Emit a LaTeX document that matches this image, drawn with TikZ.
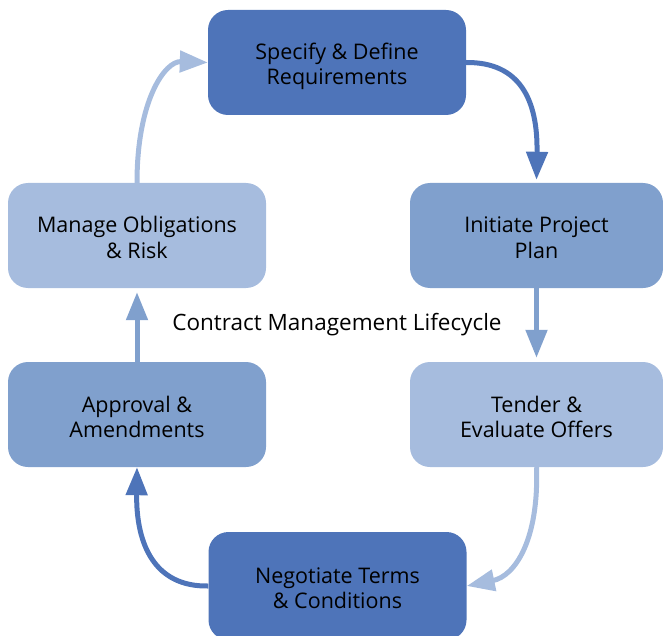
\documentclass[tikz,border=0pt]{standalone}
\usepackage{fontspec}
\setmainfont{Open Sans}
\usetikzlibrary{arrows.meta}
\definecolor{cdark}{RGB}{78,116,185}
\definecolor{cmid}{RGB}{128,160,205}
\definecolor{clight}{RGB}{166,188,222}
\newcommand\myTopStrut{\rule{0pt}{26pt}}
\newcommand\myBotStrut{\rule[-6pt]{0pt}{6pt}}
\begin{document}
\begin{tikzpicture}[x=1pt,y=-1pt,
  stage/.style={rectangle, rounded corners=20pt, minimum width=258pt, minimum height=105pt,
    align=center, inner sep=0pt, font=\fontsize{21.5}{25}\selectfont},
  flow/.style={line width=5pt, -{Triangle[length=28pt,width=21pt]}}]
\clip (0,0) rectangle (663,636);
\node[stage, fill=cdark] (spec) at (337,62.5) {\myTopStrut Specify \& Define\\Requirements\myBotStrut};
\node[stage, fill=cmid, minimum width=253pt] (init) at (536.5,235.5) {\myTopStrut Initiate Project\\Plan\myBotStrut};
\node[stage, fill=clight, minimum width=253pt] (tend) at (536.5,414.5) {\myTopStrut Tender \&\\Evaluate Offers\myBotStrut};
\node[stage, fill=cdark, minimum height=108pt] (neg) at (337.5,586) {\myTopStrut Negotiate Terms\\\& Conditions\myBotStrut};
\node[stage, fill=cmid] (appr) at (137,414.5) {\myTopStrut Approval \&\\Amendments\myBotStrut};
\node[stage, fill=clight] (mgr) at (137,235.5) {\myTopStrut Manage Obligations\\\& Risk\myBotStrut};
\node[anchor=base, font=\fontsize{22.5}{25}\selectfont] (title) at (337,330) {Contract Management Lifecycle};
\draw[flow, cdark] (spec.east) .. controls (520,62) and (538,100) .. ([yshift=3pt]init.north);
\draw[flow, cmid] (init.south) -- ([yshift=4pt]tend.north);
\draw[flow, clight] (tend.south) .. controls (539,540) and (515,576) .. (neg.east);
\draw[flow, cdark] (neg.west) .. controls (155,587) and (136,545) .. (appr.south);
\draw[flow, cmid] (appr.north) -- ([yshift=-4pt]mgr.south);
\draw[flow, clight] (mgr.north) .. controls (137,100) and (165,61) .. (spec.west);
\end{tikzpicture}
\end{document}
